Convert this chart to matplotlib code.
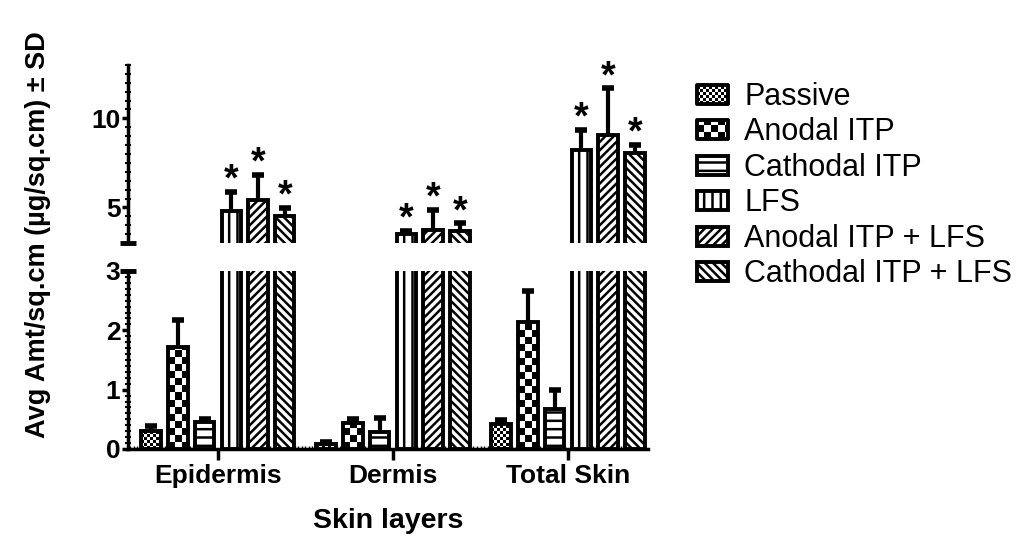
import numpy as np
import matplotlib
matplotlib.use('Agg')
import matplotlib.pyplot as plt
from matplotlib.patches import Rectangle
from matplotlib.legend_handler import HandlerBase
from matplotlib.ticker import MultipleLocator

plt.rcParams['font.family'] = ['Liberation Sans', 'DejaVu Sans']
plt.rcParams['hatch.linewidth'] = 1.8

layers = ['Epidermis', 'Dermis', 'Total Skin']
groups = ['Passive', 'Anodal ITP', 'Cathodal ITP', 'LFS',
          'Anodal ITP + LFS', 'Cathodal ITP + LFS']

# mean and SD per skin layer for each treatment
passive = [0.31, 0.09, 0.42]
passive_sd = [0.08, 0.02, 0.07]
anodal = [1.72, 0.43, 2.14]
anodal_sd = [0.45, 0.07, 0.52]
cathodal = [0.46, 0.29, 0.67]
cathodal_sd = [0.04, 0.23, 0.32]
lfs = [4.77, 3.50, 8.20]
lfs_sd = [1.12, 0.20, 1.16]
anodal_lfs = [5.43, 3.74, 9.08]
anodal_lfs_sd = [1.40, 1.13, 2.62]
cathodal_lfs = [4.54, 3.65, 8.06]
cathodal_lfs_sd = [0.43, 0.47, 0.46]

means = [passive, anodal, cathodal, lfs, anodal_lfs, cathodal_lfs]
sds = [passive_sd, anodal_sd, cathodal_sd, lfs_sd, anodal_lfs_sd, cathodal_lfs_sd]
significant = [False, False, False, True, True, True]

# fill style: ('checker', cell size in px) or a hatch string
fills = [('checker', 3), ('checker', 7), '--', '||', '////', '\\\\\\\\']

W, H = 1016, 538
fig = plt.figure(figsize=(W / 100, H / 100), dpi=100)
ax_hi = fig.add_axes([128 / W, 295 / H, 520 / W, 178 / H])
ax_lo = fig.add_axes([128 / W, 89 / H, 520 / W, 178 / H])

pitch = 0.1526
width = 0.1114
lw = 2.8
x = np.arange(len(layers))


def checker_fill(ax, bar, cell):
    # paint a black/white checkerboard inside the bar, cell size in pixels
    fig.canvas.draw()
    x0, y0 = bar.get_x(), bar.get_y()
    x1, y1 = x0 + bar.get_width(), y0 + bar.get_height()
    p0 = ax.transData.transform((x0, y0))
    p1 = ax.transData.transform((x1, y1))
    cols = max(1, int(np.ceil((p1[0] - p0[0]) / cell)))
    rows = max(1, int(np.ceil((p1[1] - p0[1]) / cell)))
    board = np.add.outer(np.arange(rows), np.arange(cols)) % 2
    xe = x0 + cols * cell * (x1 - x0) / (p1[0] - p0[0])
    ye = y0 + rows * cell * (y1 - y0) / (p1[1] - p0[1])
    im = ax.imshow(board, cmap='gray', vmin=0, vmax=1, origin='lower',
                   extent=(x0, xe, y0, ye), aspect='auto',
                   interpolation='nearest', zorder=2)
    im.set_clip_path(bar)


for ax, lo, hi in [(ax_lo, 0, 3), (ax_hi, 3, 13)]:
    ax.set_xlim(-0.514, 2.457)
    ax.set_ylim(lo, hi)
    for i in range(len(groups)):
        xs = x + (i - 2.5) * pitch
        fill = fills[i]
        if isinstance(fill, tuple):
            bars = ax.bar(xs, means[i], width, facecolor='none',
                          edgecolor='black', linewidth=lw, zorder=3)
            if ax is ax_lo:
                for b in bars:
                    checker_fill(ax, b, fill[1])
        else:
            ax.bar(xs, means[i], width, facecolor='white', edgecolor='black',
                   linewidth=lw, hatch=fill, zorder=3)
        tops = np.array(means[i]) + np.array(sds[i])
        ax.vlines(xs, means[i], tops, color='black', linewidth=3, zorder=4)
        ax.plot(xs, tops, linestyle='none', marker='_', markersize=9,
                markeredgewidth=4, color='black', zorder=4)
        if significant[i] and ax is ax_hi:
            for xi, t in zip(xs, tops):
                ax.annotate('*', xy=(xi, t), xytext=(0, -5),
                            textcoords='offset points', ha='center',
                            va='bottom', fontsize=27, fontweight='bold')
    ax.set_xlim(-0.514, 2.457)
    ax.set_ylim(lo, hi)
    for s in ['top', 'right']:
        ax.spines[s].set_visible(False)
    ax.spines['left'].set_linewidth(2.5)
    ax.tick_params(axis='y', which='major', length=4.5, width=2.5,
                   labelsize=19, pad=1)
    ax.tick_params(axis='y', which='minor', length=5, width=1.5,
                   direction='inout')
    # break caps at the ends of the split y axis
    cap_y = 1 if ax is ax_lo else 0
    ax.plot([0], [cap_y], marker='_', markersize=12, markeredgewidth=3.5,
            color='black', transform=ax.transAxes, clip_on=False, zorder=5)

ax_hi.spines['bottom'].set_visible(False)
ax_hi.set_xticks([])
ax_hi.yaxis.set_minor_locator(MultipleLocator(0.5))
ax_hi.set_yticks([5, 10])

ax_lo.set_yticks([0, 1, 2, 3])
ax_lo.yaxis.set_minor_locator(MultipleLocator(0.1))
ax_lo.spines['bottom'].set_linewidth(2.5)
ax_lo.set_xticks(x)
ax_lo.set_xticklabels(layers, fontsize=19, fontweight='bold')
ax_lo.xaxis.set_minor_locator(MultipleLocator(0.02))
ax_lo.tick_params(axis='x', which='major', length=8, width=2.5, pad=3)
ax_lo.tick_params(axis='x', which='minor', length=2.5, width=1,
                  direction='in')
for t in ax_lo.get_yticklabels() + ax_hi.get_yticklabels():
    t.set_fontweight('bold')
ax_lo.set_xlabel('Skin layers', fontsize=20.5, fontweight='bold', labelpad=14)

fig.text(38 / W, 1 - 235 / H, 'Avg Amt/sq.cm (µg/sq.cm) ± SD', rotation=90,
         ha='center', va='center', fontsize=19.5, fontweight='bold')


class CheckerHandler(HandlerBase):
    def __init__(self, cell):
        super().__init__()
        self.cell = cell

    def create_artists(self, legend, orig_handle, xdescent, ydescent,
                       width, height, fontsize, trans):
        c = self.cell * 0.72
        arts = [Rectangle((-xdescent, -ydescent), width, height,
                          facecolor='white', edgecolor='none',
                          transform=trans)]
        nx = int(np.ceil(width / c))
        ny = int(np.ceil(height / c))
        for r in range(ny):
            for k in range(nx):
                if (r + k) % 2:
                    w = min(c, width - k * c)
                    h = min(c, height - r * c)
                    arts.append(Rectangle((-xdescent + k * c, -ydescent + r * c),
                                          w, h, facecolor='black',
                                          edgecolor='none', transform=trans))
        arts.append(Rectangle((-xdescent, -ydescent), width, height,
                              facecolor='none', edgecolor='black',
                              linewidth=lw, joinstyle='round',
                              transform=trans))
        return arts


handles = []
handler_map = {}
for i, name in enumerate(groups):
    fill = fills[i]
    if isinstance(fill, tuple):
        h = Rectangle((0, 0), 1, 1, facecolor='white', edgecolor='black')
        handler_map[h] = CheckerHandler(fill[1])
    else:
        h = Rectangle((0, 0), 1, 1, facecolor='white', edgecolor='black',
                      linewidth=lw, hatch=fill, joinstyle='round')
    handles.append(h)

fig.legend(handles, groups, loc='upper left', bbox_to_anchor=(697 / W, 1 - 82 / H),
           frameon=False, fontsize=22, handlelength=1.0, handleheight=0.6,
           handletextpad=0.55, labelspacing=0.18, handler_map=handler_map,
           borderaxespad=0, borderpad=0)

fig.savefig('out.png', dpi=100)
